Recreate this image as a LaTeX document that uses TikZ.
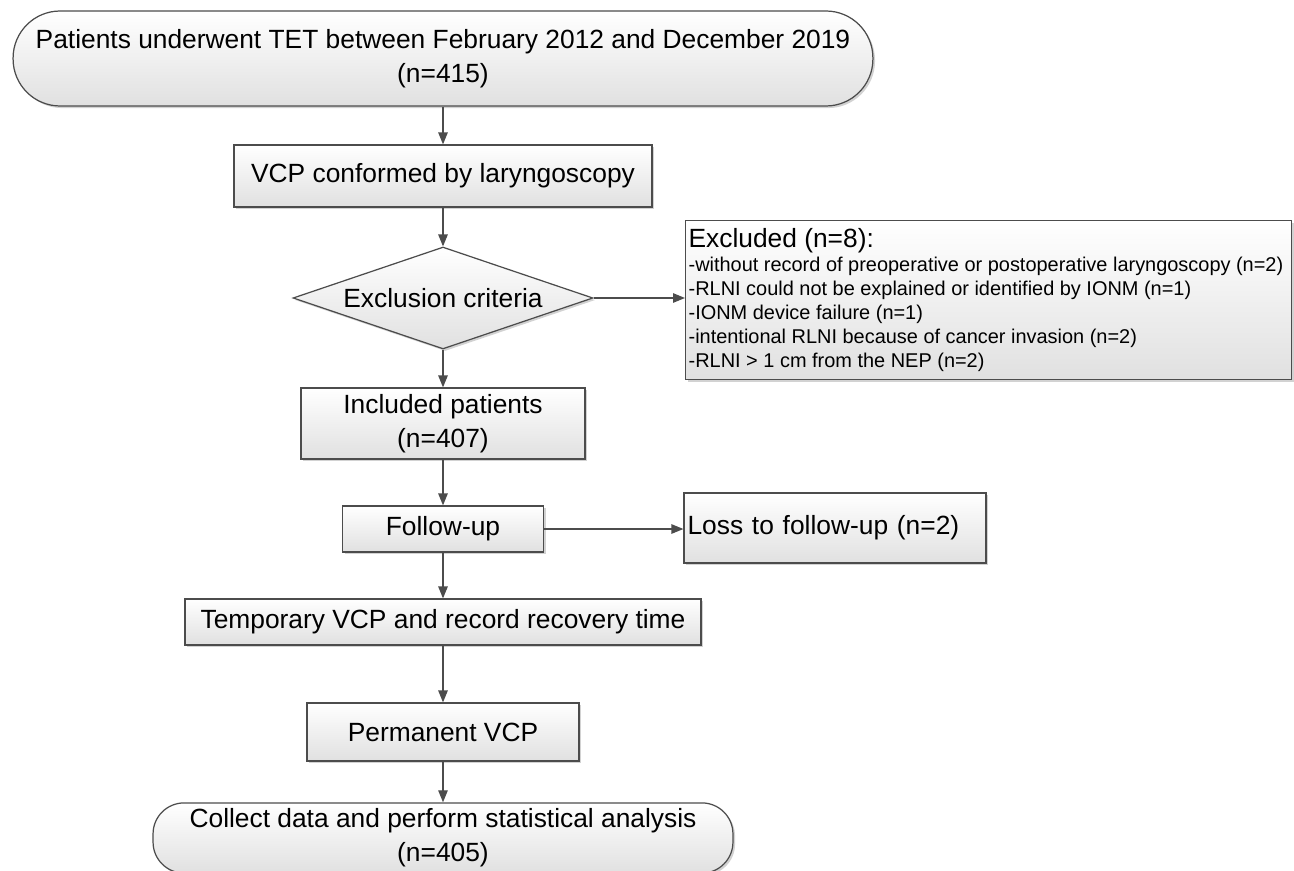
\documentclass[tikz,border=0pt]{standalone}
\usepackage{fontspec}
\setmainfont{Liberation Sans}
\usetikzlibrary{shapes.geometric,arrows.meta,shadows}

\tikzset{
  boxfill/.style={draw=black!70, line width=0.7pt, top color=white, bottom color=black!12,
    drop shadow={shadow xshift=1.2pt, shadow yshift=-1.2pt, fill=black!35, opacity=0.5}},
  stepbox/.style={boxfill, rectangle, inner sep=2pt, align=center, font=\bigtxt},
  termbox/.style={boxfill, rectangle, rounded corners=#1, align=center, font=\bigtxt},
  critbox/.style={boxfill, diamond, aspect=3, inner sep=0pt, font=\bigtxt},
  flow/.style={draw=black!70, line width=0.7pt, -{Triangle[length=2.4mm,width=1.9mm]}},
}
\newcommand{\bigtxt}{\fontsize{15}{19.3}\selectfont}
\newcommand{\smalltxt}{\fontsize{11.35}{13.6}\selectfont}

\begin{document}
\begin{tikzpicture}[x=0.02cm, y=-0.02cm]
    \useasboundingbox (0,0) rectangle (1294,871);
    % main column
    \node (top) [termbox=0.94cm, minimum width=17.2cm, minimum height=1.9cm] at (443,58.5)
        {Patients underwent TET between February 2012 and December 2019\\ (n=415)};
    \node (vcp) [stepbox, minimum width=8.36cm, minimum height=1.24cm] at (443,176)
        {VCP conformed by laryngoscopy};
    \node (crit) [critbox, minimum width=6cm, minimum height=2.04cm] at (443,298)
        {Exclusion criteria};
    \node (incl) [stepbox, minimum width=5.68cm, minimum height=1.42cm] at (443,423.5)
        {Included patients\\ (n=407)};
    \node (follow) [stepbox, minimum width=4.02cm, minimum height=0.92cm] at (443,529)
        {Follow-up};
    \node (temp) [stepbox, minimum width=10.32cm, minimum height=0.92cm] at (443,622)
        {Temporary VCP and record recovery time};
    \node (perm) [stepbox, minimum width=5.44cm, minimum height=1.16cm] at (443,732)
        {Permanent VCP};
    \node (collect) [termbox=0.62cm, minimum width=11.6cm, minimum height=1.4cm] at (443,838)
        {Collect data and perform statistical analysis\\ (n=405)};
    % side boxes
    \node (excl) [stepbox, anchor=north west, align=left, inner sep=1.5pt,
        minimum width=12.12cm, minimum height=3.18cm] at (685,220)
        {\parbox{12cm}{\raggedright\bigtxt Excluded (n=8):\par\smalltxt
         -without record of preoperative or postoperative laryngoscopy (n=2)\par
         -RLNI could not be explained or identified by IONM (n=1)\par
         -IONM device failure (n=1)\par
         -intentional RLNI because of cancer invasion (n=2)\par
         -RLNI > 1 cm from the NEP (n=2)}};
    \node (loss) [stepbox, align=left, text width=5.9cm, minimum height=1.4cm] at (835,528)
        {Loss to follow-up (n=2)};
    % arrows
    \draw[flow] (top) -- (vcp);
    \draw[flow] (vcp) -- (crit);
    \draw[flow] (crit) -- (incl);
    \draw[flow] (incl) -- (follow);
    \draw[flow] (follow) -- (temp);
    \draw[flow] (temp) -- (perm);
    \draw[flow] (perm) -- (collect);
    \draw[flow] (crit) -- (crit -| excl.west);
    \draw[flow] (follow) -- (follow -| loss.west);
\end{tikzpicture}
\end{document}
